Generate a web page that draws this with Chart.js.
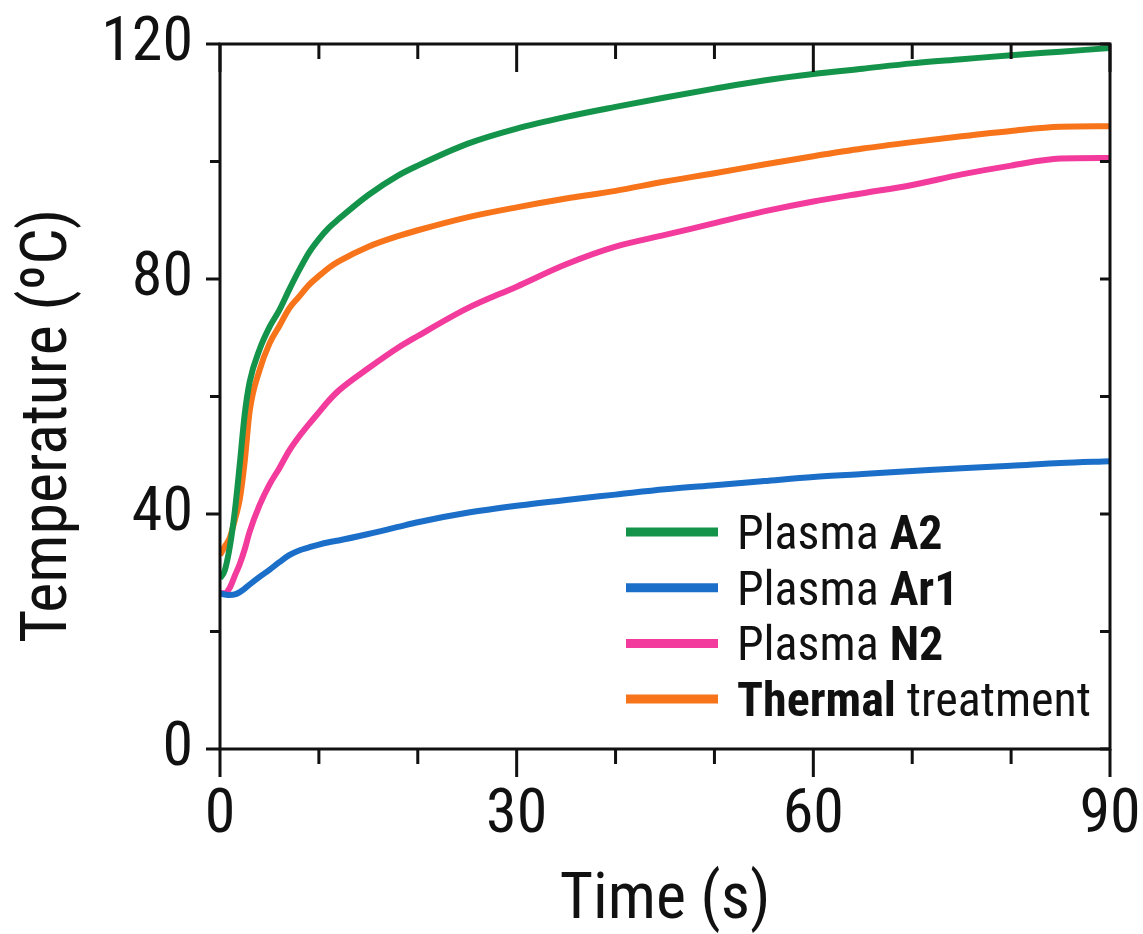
<!DOCTYPE html>
<html>
<head>
<meta charset="utf-8">
<script src="https://cdn.jsdelivr.net/npm/chart.js@4"></script>
<style>
  html, body { margin: 0; padding: 0; background: #fff; }
  #wrap { width: 1143px; height: 934px; position: relative; }
</style>
</head>
<body>
<div id="wrap"><canvas id="tempChart"></canvas></div>
<script>
// time axis (s)
const times = [0, 0.5, 1, 1.5, 2, 2.5, 3, 4, 5, 6, 7, 8, 9, 10, 11, 12, 15, 18, 20, 25, 30, 35, 40, 45, 50, 55, 60, 65, 70, 75, 80, 85, 90];

// temperatures (ºC)
const plasmaA2 = [29, 30.5, 34.5, 40.5, 48.5, 57, 62.5, 68, 71.8, 74.7, 78.2, 81.5, 84.5, 86.8, 88.7, 90.2, 94.3, 97.6, 99.3, 103, 105.6, 107.6, 109.3, 110.9, 112.4, 113.8, 114.9, 115.8, 116.7, 117.4, 118.1, 118.7, 119.3];
const plasmaAr1 = [26.5, 26.3, 26.2, 26.3, 26.7, 27.3, 28, 29.3, 30.5, 31.8, 33, 33.8, 34.3, 34.8, 35.2, 35.5, 36.6, 37.8, 38.6, 40.2, 41.4, 42.4, 43.3, 44.2, 44.9, 45.6, 46.3, 46.8, 47.3, 47.8, 48.2, 48.7, 49];
const plasmaN2 = [26.5, 26.5, 27.5, 29.5, 31.5, 34, 37, 41.5, 45, 47.8, 50.8, 53.2, 55.3, 57.3, 59.3, 61, 64.8, 68.3, 70.3, 75, 78.7, 82.5, 85.5, 87.5, 89.5, 91.5, 93.2, 94.6, 96, 97.8, 99.3, 100.5, 100.6];
const thermal = [33, 34.5, 36, 39, 42.5, 49, 57.5, 64.5, 69, 72, 75, 77, 79, 80.5, 81.9, 83, 85.5, 87.3, 88.3, 90.5, 92.2, 93.7, 95, 96.6, 98, 99.5, 100.9, 102.2, 103.3, 104.3, 105.2, 105.9, 106];

const seriesNames = ['Plasma A2', 'Plasma Ar1', 'Plasma N2', 'Thermal treatment'];
// legend text pieces: [text, bold]
const legendParts = [
    [['Plasma ', false], ['A2', true]],
    [['Plasma ', false], ['Ar1', true]],
    [['Plasma ', false], ['N2', true]],
    [['Thermal', true], [' treatment', false]]
];
const seriesColors = ['#14944a', '#1b6fc8', '#f23b9c', '#f7741b'];

const xTicks = [0, 30, 60, 90];
const yTicks = [0, 40, 80, 120];

const FONT = '"Liberation Sans Narrow", "Roboto Condensed", "Open Sans Condensed", "DejaVu Sans Condensed", sans-serif';
Chart.defaults.font.family = FONT;
Chart.defaults.color = '#111';

const allSeries = [plasmaA2, plasmaAr1, plasmaN2, thermal];

// frame with ticks on all four sides
const frameTicks = {
    id: 'frameTicks',
    afterDatasetsDraw(chart) {
        const { ctx, chartArea: a, scales: { x, y } } = chart;
        ctx.save();
        ctx.strokeStyle = '#111';
        ctx.lineWidth = 3;
        ctx.strokeRect(a.left, a.top, a.right - a.left, a.bottom - a.top);
        ctx.beginPath();
        for (let v = 0; v <= 90; v += 10) {
            const px = x.getPixelForValue(v);
            const len = v % 30 === 0 ? 28 : 15;
            ctx.moveTo(px, a.bottom); ctx.lineTo(px, a.bottom + len);
            ctx.moveTo(px, a.top); ctx.lineTo(px, a.top + len);
        }
        for (let v = 0; v <= 120; v += 20) {
            const py = y.getPixelForValue(v);
            const len = v % 40 === 0 ? 14 : 10;
            ctx.moveTo(a.left, py); ctx.lineTo(a.left - len, py);
            ctx.moveTo(a.right, py); ctx.lineTo(a.right - 10, py);
        }
        ctx.stroke();
        ctx.restore();
    }
};

// legend with mixed bold / regular text
const richLegend = {
    id: 'richLegend',
    afterDraw(chart) {
        const { ctx, chartArea: a } = chart;
        const size = 48;
        const x0 = a.right - 484;
        const y0 = a.bottom - 217;
        const rowH = 55.7;
        ctx.save();
        chart.data.datasets.forEach((ds, i) => {
            const yy = y0 + i * rowH;
            ctx.strokeStyle = ds.borderColor;
            ctx.lineWidth = 9;
            ctx.beginPath();
            ctx.moveTo(x0, yy);
            ctx.lineTo(x0 + 92, yy);
            ctx.stroke();
            let tx = x0 + 111;
            ctx.fillStyle = '#111';
            ctx.textBaseline = 'alphabetic';
            legendParts[i].forEach(([txt, bold]) => {
                ctx.font = (bold ? 'bold ' : '') + size + 'px ' + FONT;
                ctx.fillText(txt, tx, yy + 17);
                tx += ctx.measureText(txt).width;
            });
        });
        ctx.restore();
    }
};

const ctx = document.getElementById('tempChart').getContext('2d');
const tempChart = new Chart(ctx, {
    type: 'line',
    data: {
        datasets: allSeries.map((vals, i) => ({
            label: seriesNames[i],
            data: times.map((t, k) => ({ x: t, y: vals[k] })),
            borderColor: seriesColors[i],
            backgroundColor: seriesColors[i],
            borderWidth: 6,
            pointRadius: 0,
            cubicInterpolationMode: 'monotone',
            fill: false
        }))
    },
    options: {
        responsive: true,
        maintainAspectRatio: false,
        animation: false,
        layout: { padding: { top: 44, right: 33, left: 0, bottom: 0 } },
        plugins: {
            legend: { display: false },
            tooltip: { enabled: false }
        },
        scales: {
            x: {
                type: 'linear',
                min: 0,
                max: 90,
                afterBuildTicks: (s) => { s.ticks = xTicks.map(v => ({ value: v })); },
                afterFit: (s) => { s.height = 185; s.paddingLeft = 0; s.paddingRight = 0; },
                grid: { display: false, drawTicks: false },
                border: { display: false },
                ticks: { font: { size: 62 }, padding: 30, maxRotation: 0 },
                title: {
                    display: true,
                    text: 'Time (s)',
                    font: { size: 64, lineHeight: 1 },
                    padding: { top: 0, bottom: 0 }
                }
            },
            y: {
                min: 0,
                max: 120,
                afterBuildTicks: (s) => { s.ticks = yTicks.map(v => ({ value: v })); },
                afterFit: (s) => { s.width = 220; s.paddingTop = 0; s.paddingBottom = 0; },
                grid: { display: false, drawTicks: false },
                border: { display: false },
                ticks: { font: { size: 62 }, padding: 27 },
                title: {
                    display: true,
                    text: 'Temperature (ºC)\u00a0\u00a0\u00a0\u00a0',
                    font: { size: 64, lineHeight: 1 },
                    padding: { top: 18, bottom: 0 }
                }
            }
        }
    },
    plugins: [frameTicks, richLegend]
});
</script>
</body>
</html>
